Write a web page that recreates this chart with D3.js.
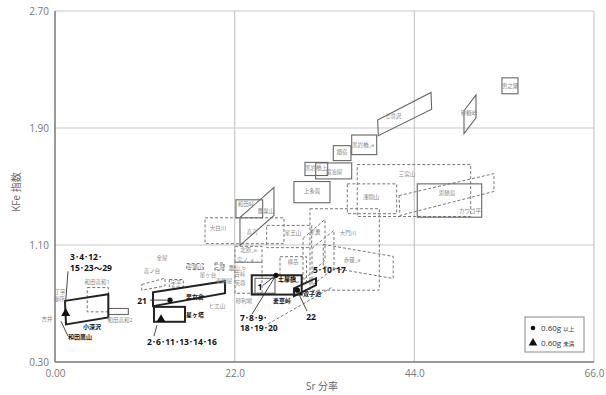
<!DOCTYPE html>
<html><head><meta charset="utf-8">
<script src="https://cdn.jsdelivr.net/npm/d3@7"></script>
<style>body{margin:0;background:#fff}svg{display:block}text{font-family:"Open Sans","Noto Sans CJK JP",sans-serif}</style>
</head><body>
<svg id="c" width="606" height="395"></svg>
<script>
// ---- data ----
const xTicks = [0, 22, 44, 66];
const xTickLabels = ["0.00", "22.0", "44.0", "66.0"];
const yTicks = [0.30, 1.10, 1.90, 2.70];
const yTickLabels = ["0.30", "1.10", "1.90", "2.70"];

// boxes: [name, Sr0, Sr1, KFe0, KFe1]
const solidBoxes = [
  ["男之瀬", 54.73, 56.69, 2.134, 2.243],
  ["黒岩橋_a", 36.33, 39.39, 1.718, 1.852],
  ["畑宿", 34.08, 36.24, 1.677, 1.779],
  ["黒岩橋上", 30.61, 33.39, 1.575, 1.665],
  ["鍛冶屋", 31.92, 36.33, 1.552, 1.661],
  ["上多賀", 29.26, 33.67, 1.389, 1.534],
  ["恩馳島", 44.36, 52.25, 1.290, 1.518],
  ["和田峠", 22.16, 25.43, 1.286, 1.409],
  ["和田高和2", 6.53, 8.98, 0.625, 0.666],
  ["冷山", 24.49, 26.94, 0.770, 0.872]
];
const dashedBoxes = [
  ["三宮山", 37.01, 50.90, 1.295, 1.650],
  ["浅間山", 35.79, 41.84, 1.314, 1.518],
  ["大白川", 18.37, 28.04, 1.109, 1.286],
  ["大門川", 31.22, 39.71, 0.791, 1.348],
  ["星王山", 25.92, 31.43, 1.082, 1.234],
  ["横岳", 27.55, 30.80, 0.846, 1.020],
  ["北原", 22.04, 25.35, 0.982, 1.091],
  ["宮ノ上", 22.04, 25.35, 0.770, 0.982],
  ["和田高和1", 3.95, 6.53, 0.643, 0.809],
  ["平瀬山", 16.13, 18.16, 0.932, 0.973],
  ["三股", 19.59, 20.69, 0.927, 0.977],
  ["宇平", 14.00, 15.71, 0.813, 0.864]
];
// parallelograms: [name, [[Sr,KFe] x4]]
const solidPolys = [
  ["砂糠崎", [[50.08, 2.018], [51.55, 2.127], [51.55, 1.970], [50.08, 1.861]]],
  ["七尋沢", [[39.51, 1.954], [46.04, 2.143], [46.12, 2.029], [39.59, 1.847]]],
  ["鷹巣山", [[22.65, 1.288], [26.81, 1.493], [26.81, 1.302], [22.65, 1.098]]]
];
const dashedPolys = [
  ["カワゴ平", [[42.12, 1.438], [53.75, 1.588], [53.75, 1.466], [42.24, 1.302]]],
  ["赤薙_a", [[32.85, 1.104], [41.42, 1.022], [41.42, 0.871], [32.85, 0.953]]],
  ["星糞", [[30.37, 1.145], [33.06, 1.275], [33.06, 0.995], [30.37, 0.859]]],
  ["星糞_b", [[31.47, 1.077], [34.16, 1.200], [34.16, 0.941], [31.47, 0.825]]],
  ["高ノ台", [[10.62, 0.830], [13.47, 0.873], [13.47, 0.820], [10.62, 0.791]]]
];
const dashedLines = [
  [[26.08, 0.560], [33.92, 0.811]]
];
const boldBoxes = [
  ["星ヶ塔", 12.12, 15.92, 0.575, 0.677],
  ["麦草峠", 24.09, 30.21, 0.761, 0.893]
];
const boldPolys = [
  ["小深沢", [[1.22, 0.718], [6.53, 0.764], [6.53, 0.605], [1.35, 0.557]]],
  ["男女倉", [[12.00, 0.777], [20.82, 0.852], [20.82, 0.770], [12.00, 0.682]]],
  ["双子池", [[29.26, 0.804], [31.96, 0.873], [31.96, 0.825], [29.26, 0.750]]]
];
const circles = [[14.08, 0.723], [27.06, 0.893], [29.67, 0.791]];
const triangles = [[1.31, 0.632], [12.98, 0.591]];

// gray labels: [text, Sr, KFe]
const grayLabels = [
  ["丁字", 0.61, 0.777], ["御所", 0.55, 0.729], ["吉井", -0.98, 0.593],
  ["金屋", 13.10, 1.009], ["高ノ台", 11.88, 0.920], ["宇平", 14.82, 0.839],
  ["平瀬山", 17.14, 0.948], ["三股", 20.14, 0.952], ["ヒエ山", 19.84, 0.682],
  ["星ヶ台", 18.73, 0.893], ["東餅屋", 20.69, 0.852], ["古峠", 22.65, 0.900],
  ["芙蓉", 22.65, 0.839], ["鷹山_b", 22.30, 0.945], ["砂利場", 23.14, 0.716],
  ["北原_a", 23.70, 1.062], ["宮ノ_a", 23.30, 0.996],
  ["大白川", 19.96, 1.213], ["高八", 24.12, 1.186], ["星王山", 29.14, 1.179],
  ["横岳", 29.14, 0.982], ["大門川", 35.88, 1.179], ["赤薙_a", 36.37, 0.995],
  ["星糞", 31.84, 1.186], ["浅間山", 38.69, 1.425], ["三宮山", 43.10, 1.582],
  ["恩馳島", 48.00, 1.452], ["カワゴ平", 50.81, 1.329], ["七尋沢", 41.39, 1.984],
  ["砂糠崎", 50.69, 2.004], ["男之瀬", 55.71, 2.188], ["黒岩橋_a", 37.71, 1.786],
  ["畑宿", 35.14, 1.732], ["黒岩橋上", 31.96, 1.623], ["鍛冶屋", 34.16, 1.602],
  ["上多賀", 31.47, 1.466], ["和田峠", 23.39, 1.377], ["鷹巣山", 25.84, 1.329],
  ["和田高和1", 5.14, 0.845], ["和田高和2", 7.96, 0.586]
];
// bold number labels: [text, Sr, KFe, anchor]
const numLabels = [
  ["3･4･12･", 1.84, 1.016, "start"], ["15･23～29", 1.84, 0.941, "start"],
  ["21", 11.26, 0.716, "end"], ["2･6･11･13･14･16", 11.26, 0.436, "start"],
  ["7･8･9･", 22.65, 0.600, "start"], ["18･19･20", 22.65, 0.532, "start"],
  ["5･10･17", 31.59, 0.927, "start"], ["1", 25.10, 0.811, "middle"],
  ["22", 31.35, 0.607, "middle"]
];
// bold name labels
const nameLabels = [
  ["小深沢", 4.53, 0.539, "middle"], ["和田鷹山", 3.06, 0.470, "middle"],
  ["男女倉", 16.04, 0.743, "start"], ["星ヶ塔", 16.04, 0.620, "start"],
  ["麦草峠", 27.79, 0.716, "middle"], ["双子池", 30.37, 0.768, "start"],
  ["土屋橋", 27.31, 0.866, "start"]
];
// leader lines
const leaders = [
  [[1.59, 0.920], [1.22, 0.648]], [[0.73, 0.579], [1.59, 0.477]],
  [[11.63, 0.723], [13.71, 0.723]], [[12.49, 0.552], [12.12, 0.477]],
  [[24.12, 0.627], [27.06, 0.893]], [[25.47, 0.825], [27.06, 0.893]],
  [[30.86, 0.648], [29.75, 0.777]]
];

// ---- drawing ----
const svg = d3.select("#c");
const x = d3.scaleLinear().domain([0, 66]).range([55, 594]);
const y = d3.scaleLinear().domain([0.30, 2.70]).range([362, 11]);

// grid
svg.append("g").selectAll("line").data(xTicks.slice(1)).join("line")
  .attr("x1", d => x(d)).attr("x2", d => x(d)).attr("y1", y(2.70)).attr("y2", y(0.30))
  .attr("stroke", "#c8c8c8").attr("stroke-width", 1.2);
svg.append("g").selectAll("line").data(yTicks.slice(1)).join("line")
  .attr("x1", x(0)).attr("x2", x(66)).attr("y1", d => y(d)).attr("y2", d => y(d))
  .attr("stroke", "#c8c8c8").attr("stroke-width", 1.2);
// axes lines
svg.append("line").attr("x1", x(0)).attr("x2", x(0)).attr("y1", y(2.70)).attr("y2", y(0.30)).attr("stroke", "#777").attr("stroke-width", 1.5);
svg.append("line").attr("x1", x(0)).attr("x2", x(66)).attr("y1", y(0.30)).attr("y2", y(0.30)).attr("stroke", "#777").attr("stroke-width", 1.5);

const xAxis = d3.axisBottom(x).tickValues(xTicks).tickSize(0).tickPadding(8)
  .tickFormat((d, i) => xTickLabels[i]);
const gx = svg.append("g").attr("transform", `translate(0,${y(0.30)})`).call(xAxis);
gx.select(".domain").remove();
gx.selectAll("text").attr("fill", "#777").style("font-size", "10px");
const yAxis = d3.axisLeft(y).tickValues(yTicks).tickSize(0).tickPadding(6)
  .tickFormat((d, i) => yTickLabels[i]);
const gy = svg.append("g").attr("transform", `translate(${x(0)},0)`).call(yAxis);
gy.select(".domain").remove();
gy.selectAll("text").attr("fill", "#777").style("font-size", "10px");

svg.append("text").attr("x", 322).attr("y", 390).attr("text-anchor", "middle")
  .attr("fill", "#666").style("font-size", "10px").text("Sr 分率");
svg.append("text").attr("transform", "translate(20,192) rotate(-90)").attr("text-anchor", "middle")
  .attr("fill", "#666").style("font-size", "10px").text("KFe 指数");

const shapes = svg.append("g").attr("fill", "none");
function drawBoxes(data, stroke, width, dash) {
  shapes.append("g").selectAll("rect").data(data).join("rect")
    .attr("x", d => x(d[1])).attr("y", d => y(d[4]))
    .attr("width", d => x(d[2]) - x(d[1])).attr("height", d => y(d[3]) - y(d[4]))
    .attr("stroke", stroke).attr("stroke-width", width).attr("stroke-dasharray", dash);
}
const line = d3.line().x(d => x(d[0])).y(d => y(d[1])).curve(d3.curveLinearClosed);
const openLine = d3.line().x(d => x(d[0])).y(d => y(d[1]));
function drawPolys(data, stroke, width, dash) {
  shapes.append("g").selectAll("path").data(data).join("path")
    .attr("d", d => line(d[1]))
    .attr("stroke", stroke).attr("stroke-width", width).attr("stroke-dasharray", dash);
}
drawBoxes(dashedBoxes, "#777", 1, "3,2");
drawPolys(dashedPolys, "#777", 1, "3,2");
shapes.append("g").selectAll("path").data(dashedLines).join("path")
  .attr("d", openLine).attr("stroke", "#777").attr("stroke-width", 1).attr("stroke-dasharray", "3,2");
drawBoxes(solidBoxes, "#666", 1.1, null);
drawPolys(solidPolys, "#666", 1.1, null);
drawBoxes(boldBoxes, "#222", 2, null);
drawPolys(boldPolys, "#222", 2, null);

svg.append("g").selectAll("line").data(leaders).join("line")
  .attr("x1", d => x(d[0][0])).attr("y1", d => y(d[0][1]))
  .attr("x2", d => x(d[1][0])).attr("y2", d => y(d[1][1]))
  .attr("stroke", "#333").attr("stroke-width", 0.9);

svg.append("g").selectAll("text").data(grayLabels).join("text")
  .attr("x", d => x(d[1])).attr("y", d => y(d[2])).attr("dy", "0.35em")
  .attr("text-anchor", "middle").attr("fill", "#888").style("font-size", "5.5px")
  .text(d => d[0]);

svg.append("g").selectAll("path").data(circles).join("path")
  .attr("transform", d => `translate(${x(d[0])},${y(d[1])})`)
  .attr("d", d3.symbol(d3.symbolCircle, 22)).attr("fill", "#111");
svg.append("g").selectAll("path").data(triangles).join("path")
  .attr("transform", d => `translate(${x(d[0])},${y(d[1])})`)
  .attr("d", d3.symbol(d3.symbolTriangle, 36)).attr("fill", "#111");

svg.append("g").selectAll("text").data(numLabels).join("text")
  .attr("x", d => x(d[1])).attr("y", d => y(d[2])).attr("dy", "0.35em")
  .attr("text-anchor", d => d[3]).attr("fill", "#111")
  .style("font-size", "8.5px").style("font-weight", "bold").text(d => d[0]);
svg.append("g").selectAll("text").data(nameLabels).join("text")
  .attr("x", d => x(d[1])).attr("y", d => y(d[2])).attr("dy", "0.35em")
  .attr("text-anchor", d => d[3]).attr("fill", "#111")
  .style("font-size", "6px").style("font-weight", "bold").text(d => d[0]);

// legend
const lg = svg.append("g").attr("transform", "translate(525,317)");
lg.append("rect").attr("width", 59).attr("height", 35).attr("fill", "#fff").attr("stroke", "#888");
lg.append("circle").attr("cx", 8).attr("cy", 11).attr("r", 2.3).attr("fill", "#111");
lg.append("path").attr("transform", "translate(8,26)").attr("d", d3.symbol(d3.symbolTriangle, 32)).attr("fill", "#111");
lg.append("text").attr("x", 16).attr("y", 11).attr("dy", "0.35em").attr("fill", "#333").style("font-size", "8px").text("0.60g ").append("tspan").style("font-size", "5.5px").text("以上");
lg.append("text").attr("x", 16).attr("y", 26).attr("dy", "0.35em").attr("fill", "#333").style("font-size", "8px").text("0.60g ").append("tspan").style("font-size", "5.5px").text("未満");
</script>
</body></html>
